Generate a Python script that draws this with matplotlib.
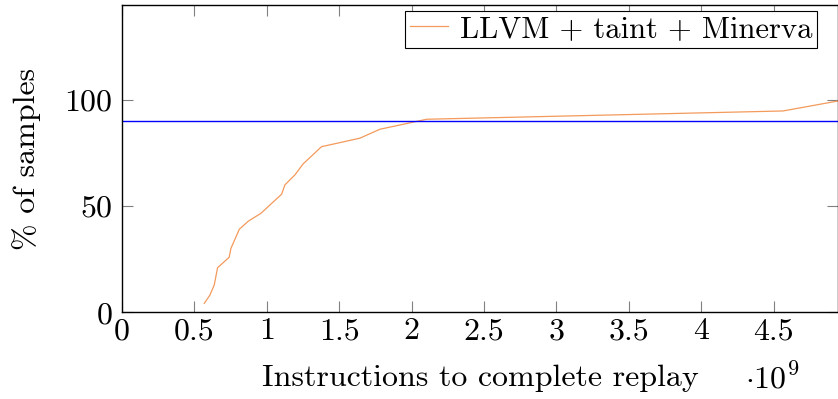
import matplotlib
matplotlib.use("Agg")
import matplotlib.pyplot as plt

# instructions to complete replay (x 1e9) vs cumulative % of samples
instr = [0.568, 0.607, 0.637, 0.660, 0.740, 0.752, 0.780, 0.810, 0.872, 0.959,
         1.021, 1.102, 1.125, 1.194, 1.251, 1.378, 1.505, 1.643, 1.781, 1.919,
         2.103, 4.564, 4.944]
pct = [4.2, 8.1, 12.9, 21.0, 25.9, 30.1, 34.4, 39.1, 42.9, 46.6,
       50.5, 55.6, 60.0, 64.7, 69.9, 78.0, 79.9, 82.0, 86.2, 88.2,
       90.9, 94.8, 99.5]
threshold = 90
series_label = "LLVM + taint + Minerva"
xticks = [0, 0.5, 1, 1.5, 2, 2.5, 3, 3.5, 4, 4.5]
yticks = [0, 50, 100]

plt.rcParams['font.family'] = ['cmr10', 'DejaVu Serif']
plt.rcParams['mathtext.fontset'] = 'cm'
plt.rcParams['axes.formatter.use_mathtext'] = True
fs = 23

fig = plt.figure(figsize=(8.38, 3.99), dpi=100)
ax = fig.add_axes([122/838, 86.7/399, 1 - 122/838, 307.3/399])

ax.plot(instr, pct, color='#f39a5c', lw=0.9, label=series_label)
ax.axhline(threshold, color='#0000ff', lw=1.0)

ax.set_xlim(0, 4.944)
ax.set_ylim(0, 144.7)
ax.set_xticks(xticks)
ax.set_xticklabels([f"{t:g}" for t in xticks])
ax.set_yticks(yticks)
ax.tick_params(direction='in', length=8, width=0.8, color='#808080',
               top=True, right=True, labelsize=fs)
ax.tick_params(axis='y', pad=7)
ax.tick_params(axis='x', pad=4)
for s in ax.spines.values():
    s.set_linewidth(1.0)
    s.set_color('black')

ax.set_xlabel("Instructions to complete replay", fontsize=fs, labelpad=14)
ax.set_ylabel("% of samples", fontsize=fs, labelpad=16)
fig.text(772/838, 1 - 378/399, r"$\cdot 10^9$", fontsize=fs, ha='center', va='center')

leg = ax.legend(loc='upper right', bbox_to_anchor=(817/838, 1 - 11/399),
                bbox_transform=fig.transFigure, borderaxespad=0, fontsize=22,
                fancybox=False, framealpha=1, edgecolor='black',
                handlelength=1.25, handletextpad=0.4, borderpad=0.15)
leg.get_frame().set_linewidth(0.8)

fig.savefig("out.png", dpi=100)
